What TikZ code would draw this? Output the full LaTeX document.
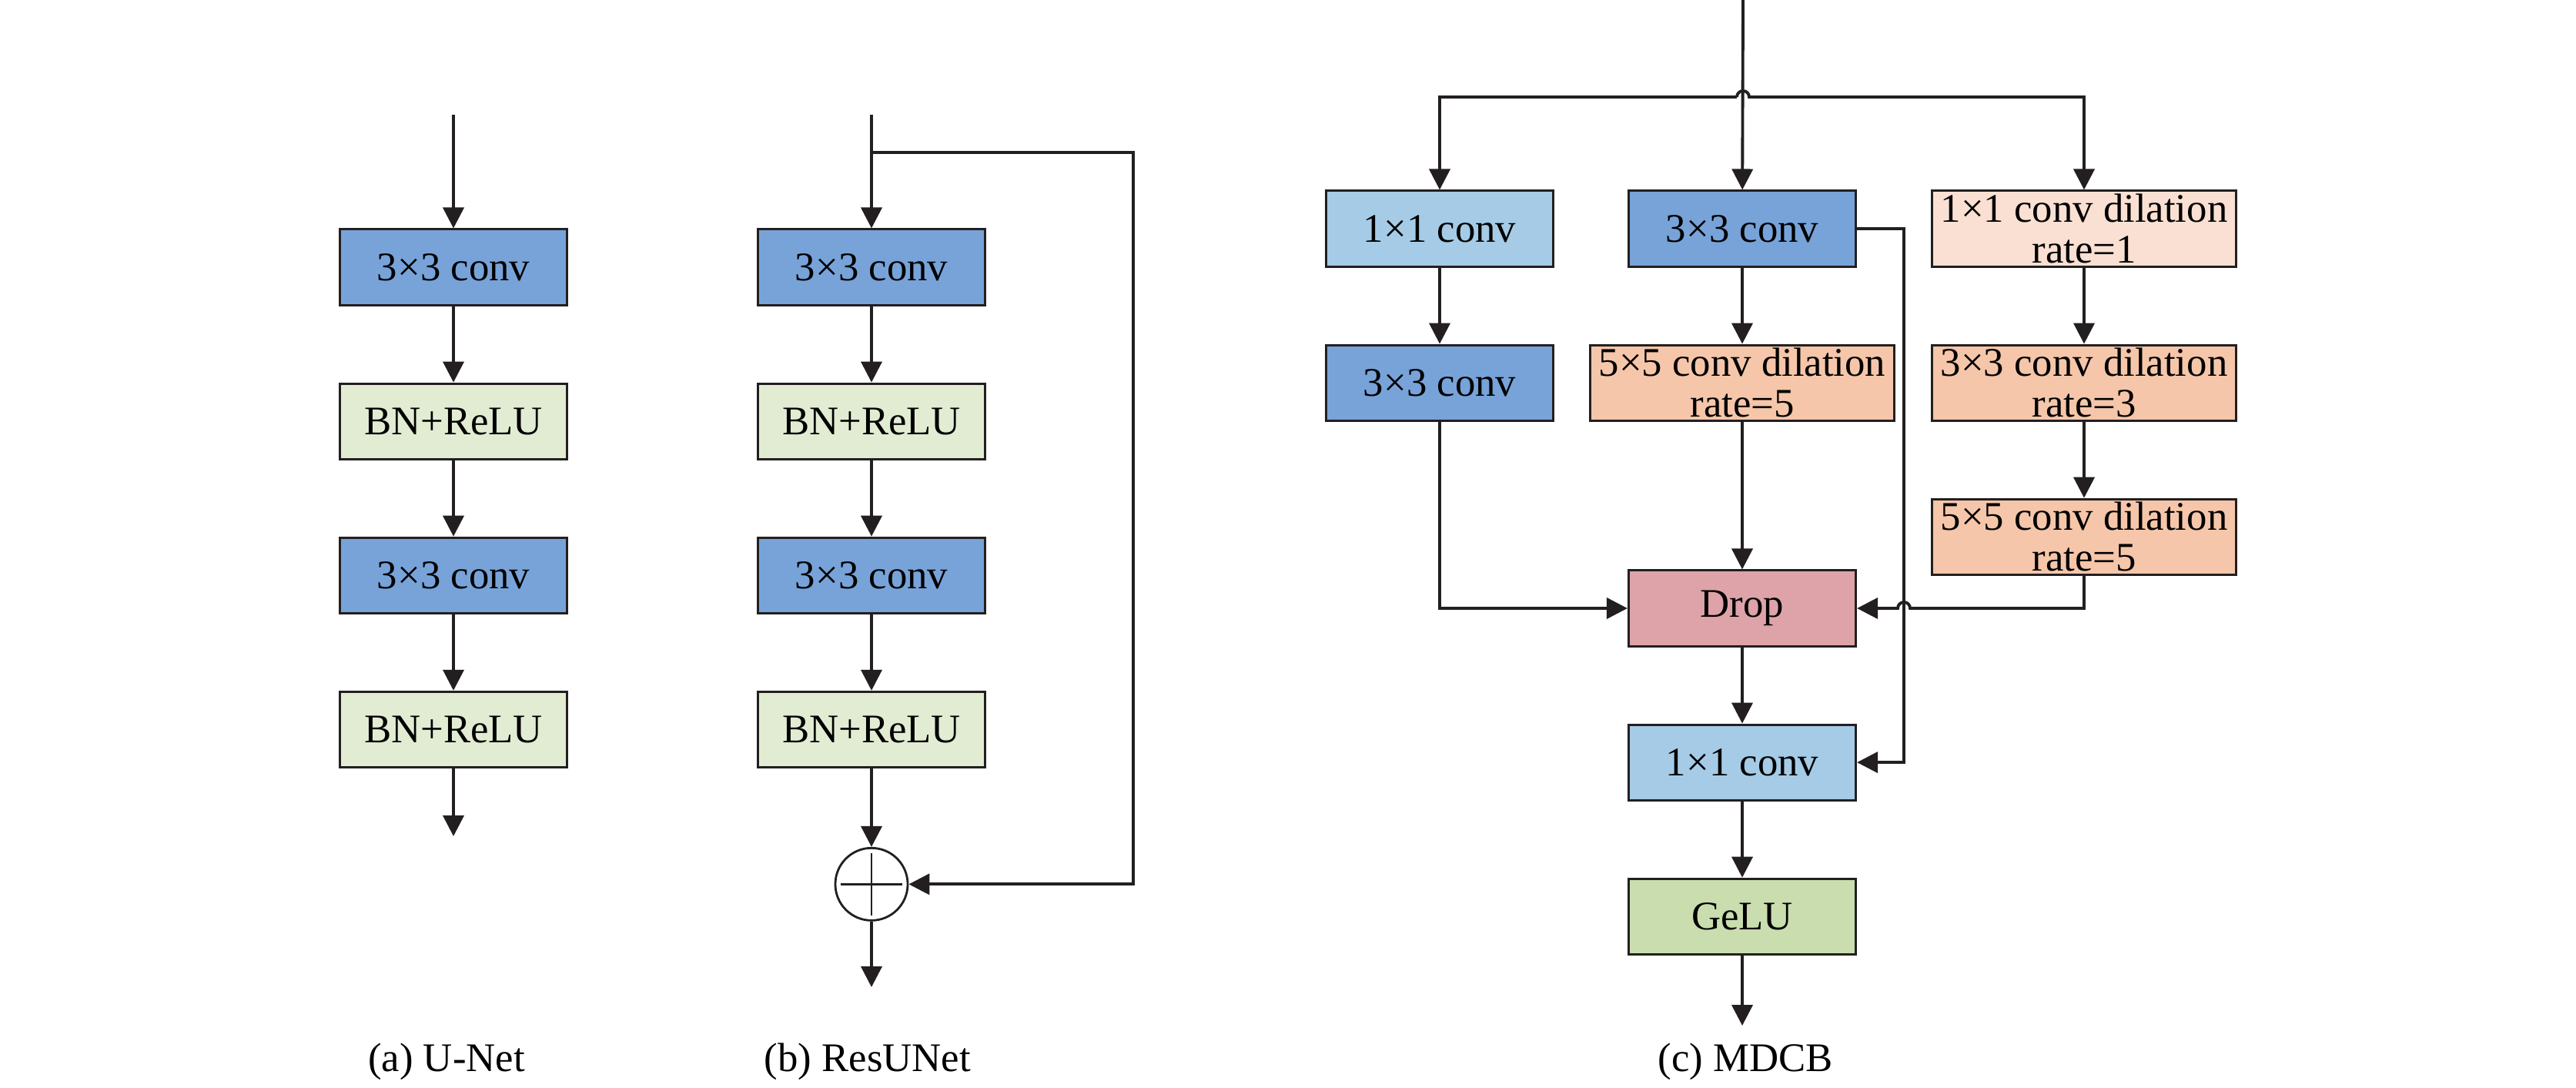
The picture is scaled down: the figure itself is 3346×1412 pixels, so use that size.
\documentclass[tikz,border=0pt]{standalone}
\usepackage{fontspec}
\setmainfont{Liberation Serif}
\usetikzlibrary{arrows.meta,positioning,calc}
\definecolor{convblue}{HTML}{78A3D9}
\definecolor{bnrelu}{HTML}{E2ECD3}
\definecolor{pointblue}{HTML}{A5CBE6}
\definecolor{dilone}{HTML}{F9E0D3}
\definecolor{dilpeach}{HTML}{F5C6A9}
\definecolor{droppink}{HTML}{DDA3A9}
\definecolor{gelugreen}{HTML}{CADDAF}
\definecolor{ink}{HTML}{231F20}
\tikzset{
  layerbox/.style={
    rectangle, draw=ink, fill=#1, line width=0.85pt,
    minimum width=2.95cm, minimum height=0.98cm,
    font=\fontsize{15}{15}\selectfont, align=center,
    inner sep=1pt
  },
  layerbox/.default=convblue,
  dilbox/.style={layerbox=#1, minimum width=3.94cm},
  dilbox/.default=dilpeach,
  flow/.style={
    -{Triangle[length=0.27cm,width=0.27cm]}, line width=1.1pt, color=ink
  },
  sumnode/.style={circle, draw=ink, line width=0.8pt,
    minimum size=0.94cm, inner sep=0pt},
  caption/.style={font=\fontsize{15}{15}\selectfont},
}

\begin{document}
\begin{tikzpicture}[x=0.01cm, y=0.01cm, node distance=0.99cm]
\useasboundingbox (0,0) rectangle (3346,-1412);
% (a) U-Net
\coordinate (uin) at (589,-149);
\node[layerbox] (u1) at (589,-347) {3×3 conv};
\node[layerbox=bnrelu, below=of u1] (u2) {BN+ReLU};
\node[layerbox, below=of u2] (u3) {3×3 conv};
\node[layerbox=bnrelu, below=of u3] (u4) {BN+ReLU};
\coordinate (uout) at (589,-1086);
\draw[flow] (uin) -- (u1);
\foreach \a/\b in {u1/u2,u2/u3,u3/u4} \draw[flow] (\a) -- (\b);
\draw[flow] (u4) -- (uout);

% (b) ResUNet
\coordinate (rin) at (1132,-149);
\coordinate (rsplit) at (1132,-198);
\coordinate (rturn) at (1472,-198);
\node[layerbox] (r1) at (1132,-347) {3×3 conv};
\node[layerbox=bnrelu, below=of r1] (r2) {BN+ReLU};
\node[layerbox, below=of r2] (r3) {3×3 conv};
\node[layerbox=bnrelu, below=of r3] (r4) {BN+ReLU};
\node[sumnode, below=1.02cm of r4] (sum) {};
\coordinate (rout) at (1132,-1282);
\draw[line width=0.8pt, color=ink] ([yshift=-0.08cm]sum.north) -- ([yshift=0.08cm]sum.south)
  ([xshift=0.08cm]sum.west) -- ([xshift=-0.08cm]sum.east);
\draw[flow] (rin) -- (r1);
\foreach \a/\b in {r1/r2,r2/r3,r3/r4,r4/sum} \draw[flow] (\a) -- (\b);
\draw[flow] (sum) -- (rout);
\draw[flow] (rsplit) -- (rturn) |- (sum);

% (c) MDCB
\coordinate (min) at (2264,0);
\coordinate (split) at (2264,-126);
\node[layerbox=pointblue] (a1) at (1870,-297) {1×1 conv};
\node[layerbox, below=of a1] (a2) {3×3 conv};
\node[layerbox] (b1) at (2263,-297) {3×3 conv};
\node[dilbox, below=of b1] (b2) {5×5 conv dilation\\rate=5};
\node[layerbox=droppink] (drop) at (2263,-790) {Drop};
\node[layerbox=pointblue, below=of drop] (pw) {1×1 conv};
\node[layerbox=gelugreen, below=of pw] (gelu) {GeLU};
\coordinate (mout) at (2263,-1332);
\node[dilbox=dilone] (c1) at (2707,-297) {1×1 conv dilation\\rate=1};
\node[dilbox, below=of c1] (c2) {3×3 conv dilation\\rate=3};
\node[dilbox, below=of c2] (c3) {5×5 conv dilation\\rate=5};
\coordinate (skip) at (2473,-297);
\draw[flow] (min) -- (b1);
\draw[flow] ([xshift=-0.08cm]split) -| (a1);
\draw[flow] ([xshift=-0.08cm]split) arc (180:0:8) -| (c1);
\foreach \a/\b in {a1/a2,b1/b2,b2/drop,c1/c2,c2/c3,drop/pw,pw/gelu} \draw[flow] (\a) -- (\b);
\draw[flow] (gelu) -- (mout);
\draw[flow] (a2) |- (drop);
\draw[flow] (c3) |- ($(skip |- drop)+(8,0)$) arc (0:180:8) -- (drop);
\draw[flow] (b1.east) -- (skip) |- (pw);

% captions
\node[caption] (capa) at (580,-1379) {(a) U-Net};
\node[caption] (capb) at (1127,-1379) {(b) ResUNet};
\node[caption] (capc) at (2267,-1379) {(c) MDCB};
\end{tikzpicture}
\end{document}
